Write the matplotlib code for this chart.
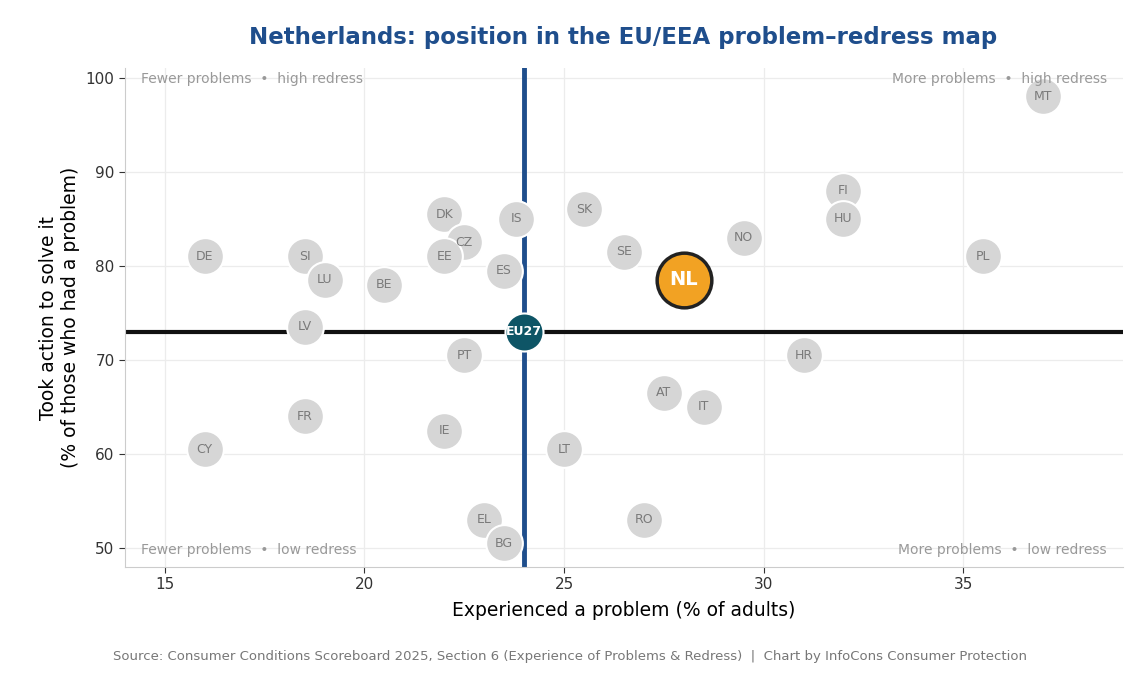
import matplotlib
matplotlib.use("Agg")
import matplotlib.pyplot as plt

countries = ["MT","FI","HU","PL","NO","SE","SK","IS","DK","CZ","EE","ES","DE","SI","LU","BE",
             "LV","PT","HR","AT","IT","FR","IE","CY","LT","EL","RO","BG"]
problems = [37.0,32.0,32.0,35.5,29.5,26.5,25.5,23.8,22.0,22.5,22.0,23.5,16.0,18.5,19.0,20.5,
            18.5,22.5,31.0,27.5,28.5,18.5,22.0,16.0,25.0,23.0,27.0,23.5]
redress = [98.0,88.0,85.0,81.0,83.0,81.5,86.0,85.0,85.5,82.5,81.0,79.5,81.0,81.0,78.5,78.0,
           73.5,70.5,70.5,66.5,65.0,64.0,62.5,60.5,60.5,53.0,53.0,50.5]
nl_x, nl_y = 28.0, 78.5
eu_x, eu_y = 24.0, 73.0

fig = plt.figure(figsize=(11.4, 6.75), dpi=100)
ax = fig.add_axes([0.1096, 0.16, 0.8754, 0.739])
ax.set_xlim(14, 39)
ax.set_ylim(48, 101)
ax.grid(True, color="#ececec", lw=0.9)
ax.set_axisbelow(True)
for s in ["top", "right"]:
    ax.spines[s].set_visible(False)
for s in ["left", "bottom"]:
    ax.spines[s].set_color("#cccccc")
ax.tick_params(colors="#333333", labelsize=11, length=4)
ax.set_xticks([15, 20, 25, 30, 35])
ax.set_yticks([50, 60, 70, 80, 90, 100])

ax.axvline(eu_x, color="#1f4e8c", lw=3.5, zorder=2)
ax.axhline(eu_y, color="#111111", lw=3, zorder=2)

ax.scatter(problems, redress, s=700, color="#d6d6d6", edgecolor="white", lw=1.5, zorder=3)
for c, x, y in zip(countries, problems, redress):
    ax.text(x, y, c, ha="center", va="center", fontsize=9, color="#7a7a7a", zorder=4)

ax.scatter([eu_x], [eu_y], s=750, color="#0e5566", edgecolor="white", lw=1.5, zorder=5)
ax.text(eu_x, eu_y, "EU27", ha="center", va="center", fontsize=9, color="white",
        fontweight="bold", zorder=6)
ax.scatter([nl_x], [nl_y], s=1550, color="#f2a223", edgecolor="#222222", lw=2.5, zorder=5)
ax.text(nl_x, nl_y, "NL", ha="center", va="center", fontsize=14, color="white",
        fontweight="bold", zorder=6)

qc = "#999999"
ax.text(14.4, 99.8, "Fewer problems  •  high redress", fontsize=10, color=qc, va="center")
ax.text(38.6, 99.8, "More problems  •  high redress", fontsize=10, color=qc, va="center", ha="right")
ax.text(14.4, 49.8, "Fewer problems  •  low redress", fontsize=10, color=qc, va="center")
ax.text(38.6, 49.8, "More problems  •  low redress", fontsize=10, color=qc, va="center", ha="right")

ax.set_xlabel("Experienced a problem (% of adults)", fontsize=13.5, labelpad=6)
ax.set_ylabel("Took action to solve it\n(% of those who had a problem)", fontsize=13.5)
fig.text(0.547, 0.935, "Netherlands: position in the EU/EEA problem\u2013redress map",
         ha="center", fontsize=16.5, fontweight="bold", color="#1f4e8c")
fig.text(0.5, 0.022, "Source: Consumer Conditions Scoreboard 2025, Section 6 (Experience of Problems & Redress)  |  Chart by InfoCons Consumer Protection",
         ha="center", fontsize=9.5, color="#777777")
fig.savefig("out.png", dpi=100)
